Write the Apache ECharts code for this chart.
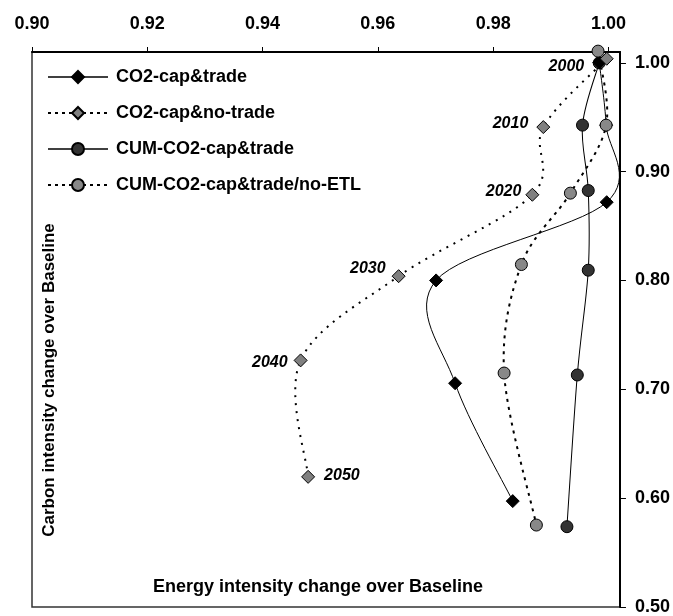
<!DOCTYPE html>
<html>
<head>
<meta charset="utf-8">
<script src="https://cdn.jsdelivr.net/npm/echarts@6/dist/echarts.min.js"></script>
<style>
html,body{margin:0;padding:0;background:#fff;}
#chart{width:673px;height:616px;}
</style>
</head>
<body>
<div id="chart"></div>
<script>
// ---- data ----
var years = ['2000', '2010', '2020', '2030', '2040', '2050'];
var seriesNames = ['CO2-cap&trade', 'CO2-cap&no-trade', 'CUM-CO2-cap&trade', 'CUM-CO2-cap&trade/no-ETL'];

var capTradeX  = [0.9984, 0.9996, 0.9997, 0.9701, 0.9734, 0.9834];
var capTradeY  = [1.0005, 0.9428, 0.8720, 0.8001, 0.7056, 0.5973];
var noTradeX   = [0.9997, 0.9887, 0.9868, 0.9636, 0.9466, 0.9479];
var noTradeY   = [1.0038, 0.9410, 0.8788, 0.8040, 0.7266, 0.6196];
var cumTradeX  = [0.9984, 0.9955, 0.9965, 0.9965, 0.9946, 0.9928];
var cumTradeY  = [1.0000, 0.9428, 0.8827, 0.8095, 0.7132, 0.5738];
var cumNoEtlX  = [0.9982, 0.9996, 0.9934, 0.9849, 0.9819, 0.9875];
var cumNoEtlY  = [1.0108, 0.9428, 0.8803, 0.8147, 0.7150, 0.5753];

var xTicks = [0.90, 0.92, 0.94, 0.96, 0.98, 1.00];
var yTicks = [0.50, 0.60, 0.70, 0.80, 0.90, 1.00];

var xTitle = 'Energy intensity change over Baseline';
var yTitle = 'Carbon intensity change over Baseline';

// ---- build ----
var FONT = '"Liberation Sans", Arial, sans-serif';

function pts(xs, ys) {
  return xs.map(function (x, i) { return [x, ys[i]]; });
}

var yearLabel = {
  show: true,
  fontFamily: FONT,
  fontSize: 16,
  fontWeight: 'bold',
  fontStyle: 'italic',
  color: '#000'
};

var noTradeLabelPos = [
  null,
  { position: 'left', distance: 8, offset: [0, -3] },
  { position: 'left', distance: 4, offset: [0, -3] },
  { position: 'left', distance: 6, offset: [0, -8] },
  { position: 'left', distance: 6, offset: [0, 2] },
  { position: 'right', distance: 9, offset: [0, -1] }
];

function withLabels(data, placements) {
  return data.map(function (p, i) {
    var pl = placements[i];
    if (!pl) return { value: p };
    return { value: p, label: Object.assign({}, yearLabel, pl, { formatter: years[i] }) };
  });
}

var capTradeData = pts(capTradeX, capTradeY).map(function (p, i) {
  if (i === 0) {
    return { value: p, label: Object.assign({}, yearLabel, { position: 'left', distance: 8, offset: [0, 4], formatter: years[0] }) };
  }
  return { value: p };
});

// Smoothed (Catmull-Rom style) curve through the points, drawn with the chart's own scales
function curveSeries(xs, ys, z, stroke, width, dash) {
  return {
    type: 'custom',
    name: '_curve' + z + '_' + width,
    coordinateSystem: 'cartesian2d',
    silent: true,
    z: z,
    clip: false,
    data: pts(xs, ys),
    renderItem: function (params, api) {
      if (params.dataIndex !== 0) return null;
      var P = xs.map(function (x, i) { return api.coord([x, ys[i]]); });
      var n = P.length;
      var d = 'M' + P[0][0] + ' ' + P[0][1];
      for (var i = 0; i < n - 1; i++) {
        var p0 = P[Math.max(i - 1, 0)], p1 = P[i], p2 = P[i + 1], p3 = P[Math.min(i + 2, n - 1)];
        var c1x = p1[0] + (p2[0] - p0[0]) / 6, c1y = p1[1] + (p2[1] - p0[1]) / 6;
        var c2x = p2[0] - (p3[0] - p1[0]) / 6, c2y = p2[1] - (p3[1] - p1[1]) / 6;
        d += ' C' + c1x + ' ' + c1y + ' ' + c2x + ' ' + c2y + ' ' + p2[0] + ' ' + p2[1];
      }
      return {
        type: 'path',
        shape: { pathData: d },
        style: { fill: null, stroke: stroke, lineWidth: width, lineDash: dash || null }
      };
    }
  };
}

function markerSeries(name, data, z, symbol, size, fill) {
  return {
    name: name,
    type: 'line',
    clip: false,
    z: z,
    symbol: symbol,
    symbolSize: size,
    showAllSymbol: true,
    lineStyle: { opacity: 0 },
    itemStyle: { color: fill, borderColor: '#000', borderWidth: 1 },
    data: data
  };
}

var legendLines = [
  { color: '#000', width: 1.3, type: 'solid' },
  { color: '#000', width: 2, type: [3, 4] },
  { color: '#000', width: 1.3, type: 'solid' },
  { color: '#000', width: 2, type: [3, 4] }
];

var option = {
  animation: false,
  backgroundColor: '#fff',
  grid: {
    left: 32, top: 52, right: 52, bottom: 7,
    show: true,
    borderColor: '#333',
    borderWidth: 1.5,
    backgroundColor: 'transparent'
  },
  legend: {
    left: 42,
    top: 63,
    orient: 'vertical',
    itemWidth: 60,
    itemHeight: 15,
    itemGap: 18,
    textStyle: { fontFamily: FONT, fontSize: 18, fontWeight: 'bold', color: '#000', padding: [0, 0, 0, 3] },
    data: seriesNames.map(function (n, i) {
      return { name: n, lineStyle: Object.assign({ opacity: 1 }, legendLines[i]) };
    })
  },
  xAxis: {
    type: 'value',
    position: 'top',
    min: 0.90,
    max: 1.002,
    interval: 0.02,
    splitLine: { show: false },
    axisLine: { show: true, lineStyle: { color: '#000', width: 2 } },
    axisTick: { show: true, inside: false, length: 5, lineStyle: { color: '#000', width: 1 }, customValues: xTicks },
    axisLabel: {
      customValues: xTicks,
      margin: 19,
      fontFamily: FONT, fontSize: 18, fontWeight: 'bold', color: '#000',
      formatter: function (v) { return v.toFixed(2); }
    }
  },
  yAxis: {
    type: 'value',
    position: 'right',
    min: 0.5,
    max: 1.01,
    interval: 0.1,
    splitLine: { show: false },
    axisLine: { show: true, lineStyle: { color: '#000', width: 2 } },
    axisTick: { show: true, inside: false, length: 6, lineStyle: { color: '#000', width: 1 }, customValues: yTicks },
    axisLabel: {
      customValues: yTicks,
      margin: 15,
      fontFamily: FONT, fontSize: 18, fontWeight: 'bold', color: '#000',
      formatter: function (v) { return v.toFixed(2); }
    }
  },
  graphic: [
    {
      type: 'text',
      x: 153, y: 587,
      style: { text: xTitle, font: 'bold 18px ' + FONT, fill: '#000', textAlign: 'left', textVerticalAlign: 'middle' },
      z: 10
    },
    {
      type: 'text',
      x: 49, y: 380,
      rotation: Math.PI / 2,
      style: { text: yTitle, font: 'bold 17px ' + FONT, fill: '#000', textAlign: 'center', textVerticalAlign: 'middle' },
      z: 10
    }
  ],
  series: [
    curveSeries(capTradeX, capTradeY, 1, '#000', 1, null),
    curveSeries(noTradeX, noTradeY, 1, '#000', 2, [2, 6]),
    curveSeries(cumTradeX, cumTradeY, 1, '#000', 1.01, null),
    curveSeries(cumNoEtlX, cumNoEtlY, 1, '#000', 2.01, [3, 5]),
    markerSeries(seriesNames[0], capTradeData, 3.5, 'diamond', 13, '#000'),
    markerSeries(seriesNames[1], withLabels(pts(noTradeX, noTradeY), noTradeLabelPos), 5, 'diamond', 13, '#808080'),
    markerSeries(seriesNames[2], pts(cumTradeX, cumTradeY), 3, 'circle', 12, '#333333'),
    markerSeries(seriesNames[3], pts(cumNoEtlX, cumNoEtlY), 4, 'circle', 12, '#888888')
  ]
};

var chart = echarts.init(document.getElementById('chart'), null, { renderer: 'canvas' });
chart.setOption(option);
</script>
</body>
</html>
